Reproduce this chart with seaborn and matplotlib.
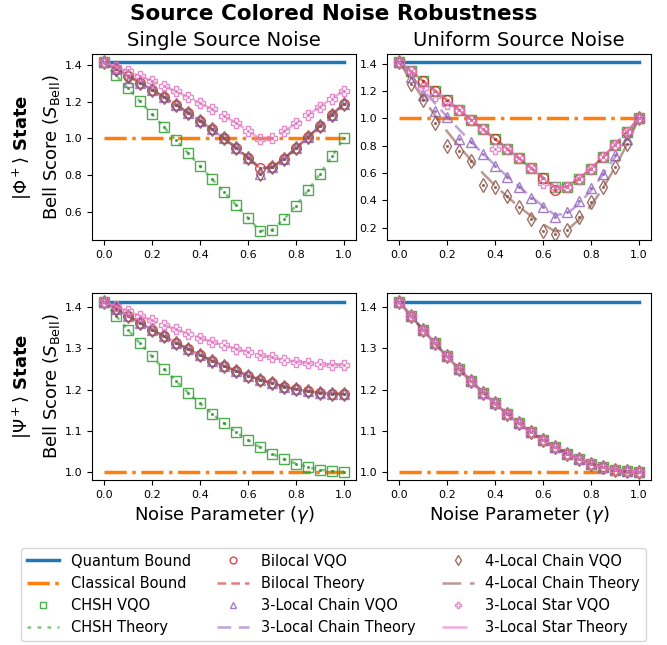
import numpy as np
import pandas as pd
import matplotlib
matplotlib.use("Agg")
import matplotlib.pyplot as plt
from matplotlib.lines import Line2D
import seaborn as sns

# ---------------- data ----------------
gamma = [0.0, 0.05, 0.1, 0.15, 0.2, 0.25, 0.3, 0.35, 0.4, 0.45, 0.5,
         0.55, 0.6, 0.65, 0.7, 0.75, 0.8, 0.85, 0.9, 0.95, 1.0]
quantum_bound = 1.4142
classical_bound = 1.0

# |Phi+> , single source noise
phi_single_chsh = [1.4142, 1.3435, 1.2728, 1.2021, 1.1314, 1.0607, 0.9899, 0.9192, 0.8485, 0.7778, 0.7071,
                   0.6364, 0.5657, 0.4950, 0.5000, 0.5590, 0.6325, 0.7159, 0.8062, 0.9014, 1.0]
phi_single_biloc = [1.4142, 1.3784, 1.3416, 1.3038, 1.2649, 1.2247, 1.1832, 1.1402, 1.0954, 1.0488, 1.0,
                    0.9487, 0.8944, 0.8367, 0.8409, 0.8891, 0.9457, 1.0062, 1.0678, 1.1291, 1.1892]
phi_single_chain3_vqo = [1.4142, 1.3784, 1.3050, 1.3038, 1.2649, 1.2247, 1.1832, 1.1402, 1.0954, 1.0488, 1.0,
                         0.9487, 0.8944, 0.8050, 0.8409, 0.8891, 0.9457, 1.0062, 1.0678, 1.1291, 1.1892]
phi_single_chain4_vqo = [1.4142, 1.3784, 1.3416, 1.3038, 1.2649, 1.2247, 1.1832, 1.1402, 1.0954, 1.0488, 1.0,
                         0.9487, 0.8944, 0.8050, 0.8409, 0.8891, 0.9457, 1.0062, 1.0678, 1.1291, 1.1892]
phi_single_star = [1.4142, 1.3903, 1.3655, 1.3396, 1.3128, 1.2849, 1.2557, 1.2250, 1.1928, 1.1587, 1.1225,
                   1.0837, 1.0420, 0.9966, 1.0, 1.0379, 1.0815, 1.1271, 1.1727, 1.2171, 1.2599]

# |Phi+> , uniform source noise
phi_unif_chsh = phi_single_chsh
phi_unif_biloc_vqo = [1.4142, 1.3435, 1.2728, 1.2021, 1.1314, 1.0607, 0.9899, 0.9192, 0.8485, 0.7778, 0.7071,
                      0.6364, 0.5610, 0.4770, 0.5000, 0.5590, 0.6325, 0.7159, 0.8062, 0.9014, 1.0]
phi_unif_star_vqo = [1.4142, 1.3435, 1.2180, 1.1600, 1.1080, 1.0607, 0.9899, 0.9192, 0.7720, 0.7778, 0.7071,
                     0.6364, 0.5240, 0.4950, 0.5000, 0.5590, 0.6325, 0.7159, 0.8062, 0.9014, 1.0]
phi_unif_chain3_theory = [1.4142, 1.3095, 1.2075, 1.1083, 1.0119, 0.9186, 0.8283, 0.7411, 0.6573, 0.5768, 0.5,
                          0.4269, 0.3578, 0.2928, 0.3017, 0.3750, 0.4733, 0.5885, 0.7162, 0.8539, 1.0]
phi_unif_chain3_vqo = [1.4142, 1.3000, 1.1700, 1.0560, 1.0100, 0.8500, 0.8230, 0.7400, 0.6520, 0.5710, 0.5000,
                       0.4200, 0.3480, 0.2790, 0.3150, 0.3940, 0.4880, 0.5930, 0.7280, 0.8520, 1.0]
phi_unif_chain4_theory = [1.4142, 1.2763, 1.1455, 1.0218, 0.9051, 0.7955, 0.6930, 0.5975, 0.5091, 0.4278, 0.3536,
                          0.2864, 0.2263, 0.1732, 0.1836, 0.2577, 0.3622, 0.4905, 0.6401, 0.8100, 1.0]
phi_unif_chain4_vqo = [1.4142, 1.2500, 1.1370, 0.9680, 0.7970, 0.7620, 0.6900, 0.5120, 0.4970, 0.4340, 0.3500,
                       0.2650, 0.1780, 0.1550, 0.1830, 0.2760, 0.3850, 0.5000, 0.6450, 0.8100, 1.0]

# |Psi+> , single source noise
psi_single_chsh = [1.4142, 1.3793, 1.3454, 1.3124, 1.2806, 1.2500, 1.2207, 1.1927, 1.1662, 1.1413, 1.1180,
                   1.0966, 1.0770, 1.0595, 1.0440, 1.0308, 1.0198, 1.0112, 1.0050, 1.0012, 1.0]
psi_single_biloc = [1.4142, 1.3966, 1.3794, 1.3624, 1.3457, 1.3296, 1.3139, 1.2987, 1.2842, 1.2704, 1.2574,
                    1.2453, 1.2341, 1.2241, 1.2151, 1.2074, 1.2009, 1.1959, 1.1922, 1.1900, 1.1892]
psi_single_star = [1.4142, 1.4025, 1.3909, 1.3794, 1.3682, 1.3572, 1.3465, 1.3362, 1.3262, 1.3167, 1.3077,
                   1.2993, 1.2915, 1.2844, 1.2781, 1.2727, 1.2682, 1.2646, 1.2620, 1.2604, 1.2599]

# |Psi+> , uniform source noise
psi_unif_all = psi_single_chsh

# ---------------- style ----------------
C_Q, C_C, C_CHSH, C_BI, C_C3, C_C4, C_ST = sns.color_palette("tab10", 7)

series_style = {
    "chsh":   dict(color=C_CHSH, marker="s", ls=(0, (1.5, 2.5))),
    "biloc":  dict(color=C_BI,   marker="o", ls=(0, (3.5, 2.0))),
    "chain3": dict(color=C_C3,   marker="^", ls=(0, (5.5, 3.0))),
    "chain4": dict(color=C_C4,   marker="d", ls=(0, (7.5, 3.5))),
    "star":   dict(color=C_ST,   marker="P", ls=(0, (10.0, 3.0))),
}

panels = [
    dict(chsh=(phi_single_chsh, phi_single_chsh), biloc=(phi_single_biloc, phi_single_biloc),
         chain3=(phi_single_chain3_vqo, phi_single_biloc), chain4=(phi_single_chain4_vqo, phi_single_biloc),
         star=(phi_single_star, phi_single_star),
         yticks=[0.6, 0.8, 1.0, 1.2, 1.4], ylim=(0.445, 1.46)),
    dict(chsh=(phi_unif_chsh, phi_unif_chsh), biloc=(phi_unif_biloc_vqo, phi_unif_chsh),
         chain3=(phi_unif_chain3_vqo, phi_unif_chain3_theory), chain4=(phi_unif_chain4_vqo, phi_unif_chain4_theory),
         star=(phi_unif_star_vqo, phi_unif_chsh),
         yticks=[0.2, 0.4, 0.6, 0.8, 1.0, 1.2, 1.4], ylim=(0.11, 1.47)),
    dict(chsh=(psi_single_chsh, psi_single_chsh), biloc=(psi_single_biloc, psi_single_biloc),
         chain3=(psi_single_biloc, psi_single_biloc), chain4=(psi_single_biloc, psi_single_biloc),
         star=(psi_single_star, psi_single_star),
         yticks=[1.0, 1.1, 1.2, 1.3, 1.4], ylim=(0.98, 1.435)),
    dict(chsh=(psi_unif_all, psi_unif_all), biloc=(psi_unif_all, psi_unif_all),
         chain3=(psi_unif_all, psi_unif_all), chain4=(psi_unif_all, psi_unif_all),
         star=(psi_unif_all, psi_unif_all),
         yticks=[1.0, 1.1, 1.2, 1.3, 1.4], ylim=(0.98, 1.435)),
]

fig = plt.figure(figsize=(6.67, 6.45), dpi=100)
W, H = 667, 645
def box(l, t, r, b):
    return [l / W, 1 - b / H, (r - l) / W, (b - t) / H]

axes = [fig.add_axes(box(92, 54, 356, 240)), fig.add_axes(box(387, 54, 651, 240)),
        fig.add_axes(box(92, 293, 356, 480)), fig.add_axes(box(387, 293, 651, 480))]

for ax, p in zip(axes, panels):
    sns.lineplot(x=gamma, y=[quantum_bound] * len(gamma), ax=ax, color=C_Q, lw=2.5, legend=False, errorbar=None)
    sns.lineplot(x=gamma, y=[classical_bound] * len(gamma), ax=ax, color=C_C, lw=2.5,
                 linestyle="-.", legend=False, errorbar=None)
    for key in ["chsh", "biloc", "chain3", "chain4", "star"]:
        st = series_style[key]
        vqo, theo = p[key]
        sns.lineplot(x=gamma, y=theo, ax=ax, color=st["color"], lw=1.8, alpha=0.6,
                     linestyle=st["ls"], legend=False, errorbar=None)
        sns.lineplot(x=gamma, y=vqo, ax=ax, linestyle="none", marker=st["marker"], markersize=7,
                     markerfacecolor="none", markeredgecolor=st["color"], markeredgewidth=1.0,
                     color=st["color"], alpha=0.85, legend=False, errorbar=None)
        sns.lineplot(x=gamma, y=vqo, ax=ax, linestyle="none", marker="o", markersize=1.8,
                     markerfacecolor=st["color"], markeredgecolor=st["color"], markeredgewidth=0.3,
                     color=st["color"], legend=False, errorbar=None)
    ax.set_xlim(-0.05, 1.05)
    ax.set_xticks([0.0, 0.2, 0.4, 0.6, 0.8, 1.0])
    ax.set_yticks(p["yticks"])
    ax.set_ylim(*p["ylim"])
    ax.tick_params(labelsize=8)
    ax.set_xlabel("")
    ax.set_ylabel("")

axes[0].set_title("Single Source Noise", fontsize=14)
axes[1].set_title("Uniform Source Noise", fontsize=14)
for ax in axes[2:]:
    ax.set_xlabel(r"Noise Parameter ($\gamma$)", fontsize=13, labelpad=3)
for ax in (axes[0], axes[2]):
    ax.set_ylabel(r"Bell Score ($S_{\mathrm{Bell}}$)", fontsize=13, labelpad=2)

fig.text(22 / W, 1 - 147 / H, r"$|\Phi^+\rangle$ State", rotation=90, fontsize=13,
         fontweight="bold", ha="center", va="center")
fig.text(22 / W, 1 - 386 / H, r"$|\Psi^+\rangle$ State", rotation=90, fontsize=13,
         fontweight="bold", ha="center", va="center")

fig.suptitle("Source Colored Noise Robustness", fontsize=15.5, fontweight="bold", y=1 - 14 / H, va="center")

labels = ["Quantum Bound", "Classical Bound", "CHSH VQO", "CHSH Theory",
          "Bilocal VQO", "Bilocal Theory", "3-Local Chain VQO", "3-Local Chain Theory",
          "4-Local Chain VQO", "4-Local Chain Theory", "3-Local Star VQO", "3-Local Star Theory"]
handles = [Line2D([], [], color=C_Q, lw=2.5), Line2D([], [], color=C_C, lw=2.5, ls="-.")]
for key in ["chsh", "biloc", "chain3", "chain4", "star"]:
    st = series_style[key]
    handles.append(Line2D([], [], ls="none", marker=st["marker"], markersize=7, markerfacecolor="none",
                          markeredgecolor=st["color"], alpha=0.85))
    handles.append(Line2D([], [], color=st["color"], lw=1.8, alpha=0.6, ls=st["ls"]))
fig.legend(handles, labels, ncol=3, loc="center", bbox_to_anchor=(0.5, 1 - 594.5 / H), fontsize=10.5,
           markerscale=0.7, handlelength=2.2, columnspacing=1.8, frameon=True)

fig.savefig("out.png", dpi=100)
